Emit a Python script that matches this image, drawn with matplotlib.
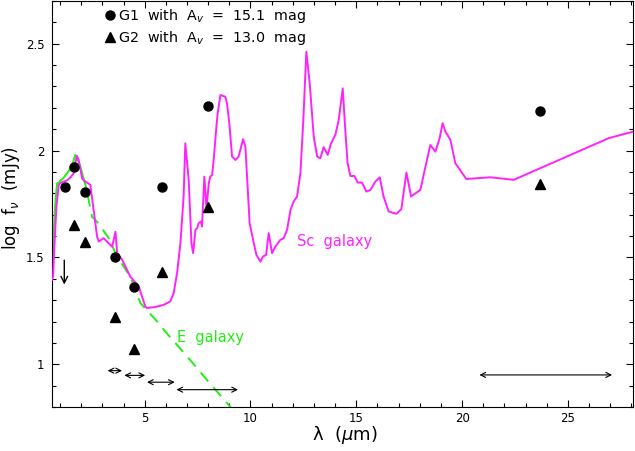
import numpy as np
import matplotlib
matplotlib.use("Agg")
import matplotlib.pyplot as plt
from matplotlib.ticker import MultipleLocator, FuncFormatter
from matplotlib.lines import Line2D

# ---------------- data ----------------
g1_wave = [1.25, 1.65, 2.2, 3.6, 4.5, 5.8, 8.0, 23.7]
g1_logf = [1.83, 1.925, 1.805, 1.50, 1.36, 1.83, 2.21, 2.185]

g2_wave = [1.65, 2.2, 3.6, 4.5, 5.8, 8.0, 23.7]
g2_logf = [1.653, 1.572, 1.221, 1.07, 1.43, 1.738, 1.843]

# upper limit for G2 at J
ul_wave = 1.2
ul_from = 1.50
ul_to = 1.36

# band widths (horizontal double arrows)
band_lo = [3.25, 4.04, 5.11, 6.50, 20.82]
band_hi = [3.93, 5.02, 6.42, 9.41, 27.09]
band_y = [0.970, 0.948, 0.916, 0.881, 0.950]

# Sc galaxy template
sc_wave = [0.62, 0.67, 0.73, 0.83, 0.94, 1.05, 1.17, 1.33, 1.52, 1.65, 1.72, 1.80,
           1.88, 2.04, 2.12, 2.43, 2.59, 2.75, 2.83, 3.06, 3.46, 3.62, 3.70, 3.93,
           4.32, 4.72, 5.03, 5.11, 5.50, 5.90, 6.21, 6.37, 6.53, 6.69, 6.84, 6.92,
           7.08, 7.21, 7.29, 7.40, 7.48, 7.55, 7.66, 7.71, 7.82, 7.92, 8.03, 8.10,
           8.19, 8.26, 8.39, 8.45, 8.58, 8.81, 8.89, 9.00, 9.13, 9.29, 9.44, 9.65,
           9.76, 9.96, 10.15, 10.28, 10.47, 10.59, 10.74, 10.86, 11.02, 11.18, 11.41,
           11.57, 11.73, 11.89, 12.04, 12.20, 12.36, 12.49, 12.64, 12.80, 12.99,
           13.15, 13.30, 13.46, 13.65, 13.81, 14.01, 14.17, 14.36, 14.49, 14.59,
           14.72, 14.91, 15.07, 15.27, 15.48, 15.67, 15.90, 16.11, 16.29, 16.53,
           16.90, 17.13, 17.37, 17.59, 18.03, 18.27, 18.50, 18.74, 18.94, 19.08,
           19.21, 19.45, 19.68, 20.20, 21.34, 22.44, 26.93, 28.10]
sc_logf = [1.395, 1.41, 1.55, 1.738, 1.84, 1.85, 1.855, 1.86, 1.878, 1.894, 1.941, 1.975,
           1.956, 1.871, 1.86, 1.84, 1.72, 1.598, 1.574, 1.59, 1.55, 1.62, 1.52, 1.49,
           1.41, 1.364, 1.27, 1.263, 1.268, 1.278, 1.294, 1.333, 1.426, 1.567, 1.785, 2.034,
           1.863, 1.567, 1.52, 1.629, 1.637, 1.66, 1.668, 1.645, 1.878, 1.73, 1.847, 1.878,
           1.886, 1.956, 2.112, 2.175, 2.26, 2.252, 2.221, 2.128, 1.972, 1.956, 1.972, 2.053,
           2.018, 1.66, 1.57, 1.512, 1.48, 1.504, 1.512, 1.614, 1.52, 1.551, 1.582,
           1.59, 1.629, 1.722, 1.761, 1.785, 1.894, 2.128, 2.463, 2.315, 2.065,
           1.972, 1.964, 2.016, 1.98, 2.034, 2.073, 2.143, 2.291, 2.081, 1.941,
           1.881, 1.881, 1.850, 1.85, 1.808, 1.816, 1.855, 1.875, 1.785, 1.715,
           1.704, 1.726, 1.897, 1.785, 1.816, 1.925, 2.026, 1.995, 2.058, 2.128,
           2.089, 2.05, 1.941, 1.867, 1.875, 1.863, 2.058, 2.089]

# E galaxy template
e_wave = [0.62, 0.70, 0.78, 0.86, 0.95, 1.02, 1.15, 1.30, 1.45, 1.60, 1.72,
          1.82, 1.96, 2.08, 2.20, 2.35, 2.51, 2.67, 2.91, 3.30, 3.70, 4.32, 4.80,
          5.50, 6.00, 7.00, 8.00, 9.00, 9.30]
e_logf = [1.45, 1.62, 1.76, 1.847, 1.85, 1.86, 1.87, 1.89, 1.91, 1.94, 1.98,
          1.96, 1.925, 1.88, 1.84, 1.77, 1.69, 1.676, 1.645, 1.59, 1.504, 1.41, 1.286,
          1.21, 1.15, 1.037, 0.92, 0.806, 0.77]

MAGENTA = "#ff22ff"
GREEN = "#22ee11"

fig = plt.figure(figsize=(6.35, 4.51), dpi=100)
ax = fig.add_axes([0.0819, 0.0976, 0.9150, 0.9002])

ax.plot(sc_wave, sc_logf, color=MAGENTA, lw=1.4, zorder=3)

e_wave = np.array(e_wave)
e_logf = np.array(e_logf)
n_solid = int((e_wave <= 2.08).sum())
ax.plot(e_wave[:n_solid], e_logf[:n_solid], color=GREEN, lw=1.4, zorder=2)
ax.plot(e_wave[n_solid - 1:], e_logf[n_solid - 1:], color=GREEN, lw=1.4,
        ls=(0, (6, 4)), zorder=2)

ax.plot(g1_wave, g1_logf, 'o', color='black', ms=6.5, zorder=5)
ax.plot(g2_wave, g2_logf, '^', color='black', ms=7.5, zorder=5)

ax.annotate('', xy=(ul_wave, ul_to), xytext=(ul_wave, ul_from),
            arrowprops=dict(arrowstyle='->', lw=1.0, color='black',
                            mutation_scale=12))

for lo, hi, y in zip(band_lo, band_hi, band_y):
    ax.annotate('', xy=(hi, y), xytext=(lo, y),
                arrowprops=dict(arrowstyle='<->', lw=0.8, color='black',
                                mutation_scale=9, shrinkA=0, shrinkB=0))

ax.text(12.2, 1.575, 'Sc  galaxy', color=MAGENTA, fontsize=10.5, va='center', ha='left')
ax.text(6.53, 1.123, 'E  galaxy', color=GREEN, fontsize=10.5, va='center', ha='left')

handles = [Line2D([], [], marker='o', color='black', ls='none', ms=6.5),
           Line2D([], [], marker='^', color='black', ls='none', ms=7.5)]
labels = [r'G1  with  A$_v$  =  15.1  mag', r'G2  with  A$_v$  =  13.0  mag']
ax.legend(handles, labels, loc='upper left', bbox_to_anchor=(0.082, 1.0),
          frameon=False, fontsize=10.3, handlelength=0.6, handletextpad=0.25,
          labelspacing=0.3, borderaxespad=0.2, borderpad=0.2)

ax.set_xlim(0.62, 28.08)
ax.set_ylim(0.80, 2.70)
ax.xaxis.set_major_locator(MultipleLocator(5))
ax.xaxis.set_minor_locator(MultipleLocator(1))
ax.yaxis.set_major_locator(MultipleLocator(0.5))
ax.yaxis.set_minor_locator(MultipleLocator(0.1))
ax.yaxis.set_major_formatter(FuncFormatter(lambda v, p: ('%g' % v)))
ax.tick_params(which='both', direction='in', top=True, right=True, labelsize=8.5,
               width=0.8)
ax.tick_params(which='major', length=5)
ax.tick_params(which='minor', length=3)
ax.tick_params(axis='y', which='major', pad=5.5)
for s in ax.spines.values():
    s.set_linewidth(0.8)

ax.set_xlabel('λ  (' + r'$\mu$' + 'm)', fontsize=13)
ax.set_ylabel(r'log  f$_\nu$  (mJy)', fontsize=12)
ax.xaxis.set_label_coords(0.504, -0.042)
ax.yaxis.set_label_coords(-0.052, 0.515)

fig.savefig('out.png', dpi=100)
